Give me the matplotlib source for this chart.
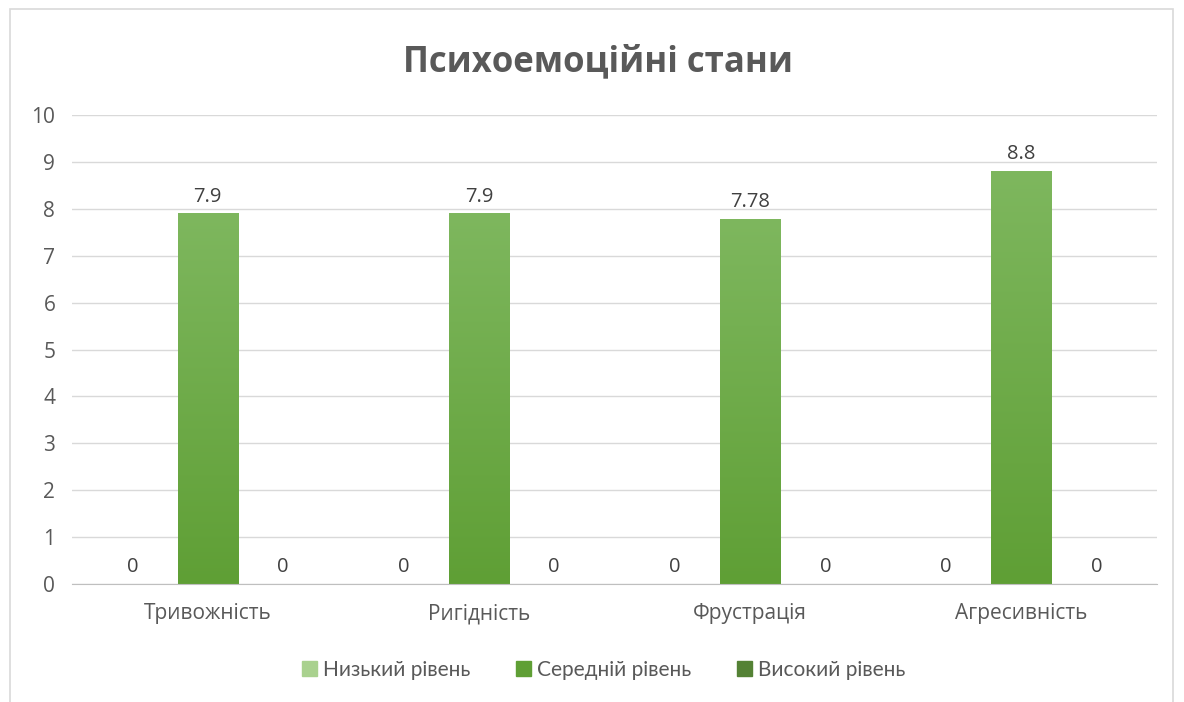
import matplotlib.pyplot as plt
import numpy as np
from matplotlib.patches import Rectangle

plt.rcParams['font.family'] = ['Open Sans', 'DejaVu Sans']

categories = ['Тривожність', 'Ригідність', 'Фрустрація', 'Агресивність']
series = ['Низький рівень', 'Середній рівень', 'Високий рівень']
low = [0, 0, 0, 0]
mid = [7.9, 7.9, 7.78, 8.8]
high = [0, 0, 0, 0]
yticks = list(range(0, 11))

# (top, bottom) colours of the gradient fill for each series
colors = [('#C5E0B4', '#A9D18E'), ('#7EB75E', '#5F9F35'), ('#62963F', '#548235')]

fig = plt.figure(figsize=(11.84, 7.02), dpi=100)
fig.patches.append(Rectangle((10 / 1184, -0.01), 1163 / 1184, 1 - 9 / 702 + 0.01,
                             transform=fig.transFigure, fill=False,
                             edgecolor='#D9D9D9', linewidth=1.2))

ax = fig.add_axes([72 / 1184, 1 - 584 / 702, (1157 - 72) / 1184, (584 - 115) / 702])

x = np.arange(len(categories))
width = 0.222
offset = 0.277
grad = np.linspace(1, 0, 256).reshape(-1, 1)

for i, (vals, name) in enumerate(zip([low, mid, high], series)):
    top, bottom = colors[i]
    cmap = plt.matplotlib.colors.LinearSegmentedColormap.from_list(name, [bottom, top])
    bars = ax.bar(x + (i - 1) * offset, vals, width, color=top, label=name, zorder=2)
    for b, v in zip(bars, vals):
        if v > 0:
            im = ax.imshow(grad[::-1], aspect='auto', cmap=cmap, zorder=2.5,
                           extent=[b.get_x(), b.get_x() + b.get_width(), 0, v],
                           origin='lower')
            im.set_clip_path(b)
        ax.annotate('{:g}'.format(v), (b.get_x() + b.get_width() / 2, v),
                    xytext=(0, 5), textcoords='offset points', ha='center',
                    va='bottom', fontsize=14.5, color='#404040')

ax.set_xlim(-0.5, len(categories) - 0.5)
ax.set_ylim(0, 10)
ax.set_yticks(yticks)
ax.set_xticks(x)
ax.set_xticklabels(categories)
ax.tick_params(axis='both', length=0, labelsize=15, colors='#595959')
ax.tick_params(axis='y', pad=12)
ax.tick_params(axis='x', pad=14)
ax.grid(axis='y', color='#D9D9D9', linewidth=1, zorder=0)
ax.set_axisbelow(True)
for s in ['top', 'left', 'right']:
    ax.spines[s].set_visible(False)
ax.spines['bottom'].set_color('#BFBFBF')

fig.text(598 / 1184, 1 - 62 / 702, 'Психоемоційні стани', ha='center', va='center',
         fontsize=25, fontweight='bold', color='#595959')

handles = [Rectangle((0, 0), 1, 1, color=c[1]) for c in colors]
fig.legend(handles, series, loc='center', bbox_to_anchor=(604 / 1184, 1 - 670 / 702),
           ncol=3, frameon=False, prop={'family': ['Lato', 'DejaVu Sans'], 'size': 15},
           handlelength=0.7, handleheight=0.7, handletextpad=0.3, columnspacing=2.2,
           labelcolor='#595959')

fig.savefig('out.png', dpi=100)
